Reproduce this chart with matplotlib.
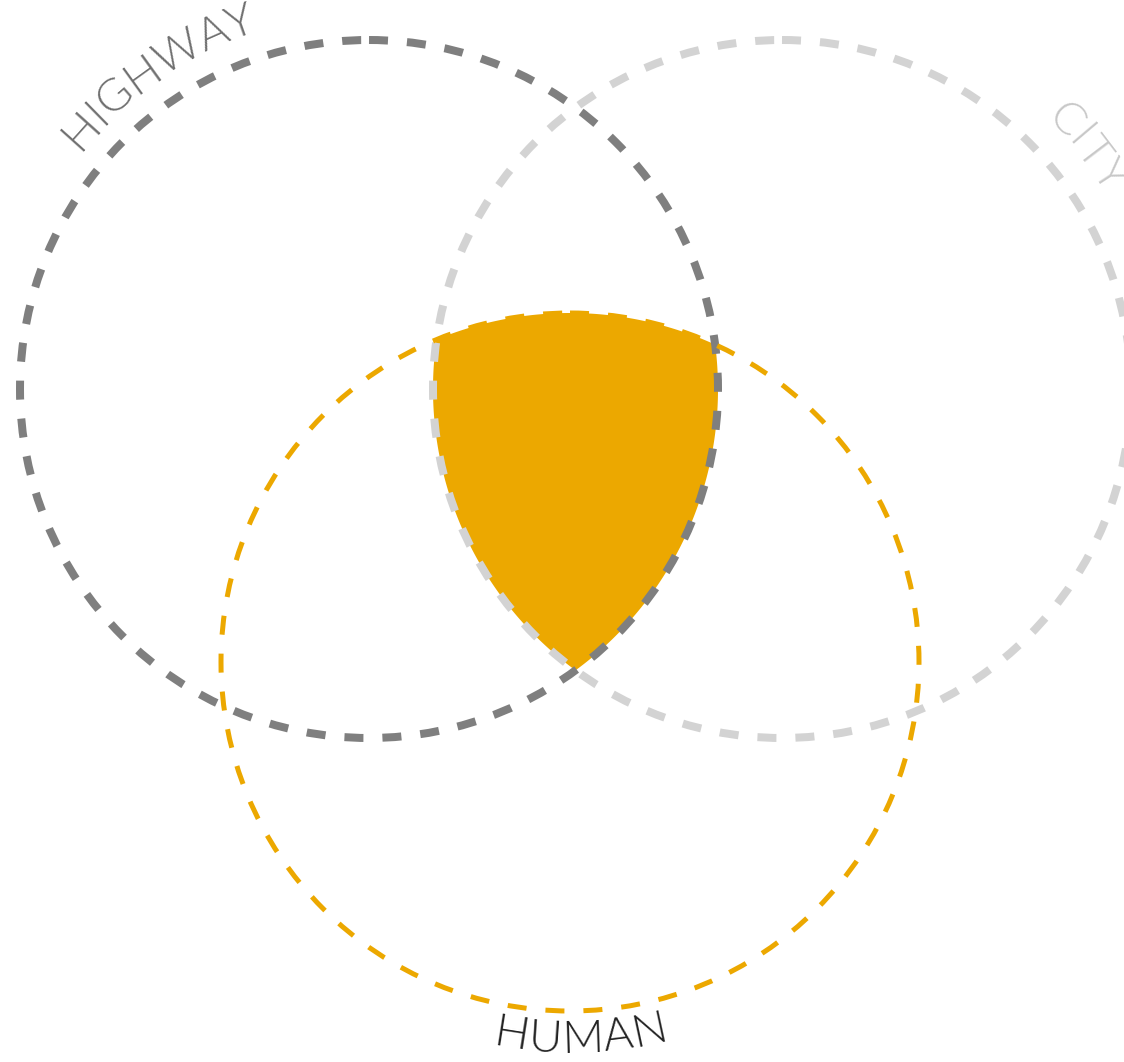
import numpy as np
import matplotlib
matplotlib.use("Agg")
import matplotlib.pyplot as plt
from matplotlib.patches import Circle, Polygon
from matplotlib import font_manager as fm

plt.rcParams['lines.scale_dashes'] = False

# ---- data ----
set_names = ["HIGHWAY", "CITY", "HUMAN"]
set_colors = ["#7f7f7f", "#d3d3d3", "#eca800"]
label_colors = ["#6f6f6f", "#c8c8c8", "#222222"]
fill_color = "#eca800"

# geometry in pixel space (image coords, y down)
centers = [(369, 389), (782, 389), (570, 662)]
radius = 349

# pick a light (not hairline) font if available
def pick_font():
    cands = ["Lato", "Open Sans", "Roboto", "Inter", "Noto Sans", "DejaVu Sans"]
    for target in (300, 200, 350, 250):
        for c in cands:
            for f in fm.fontManager.ttflist:
                if f.name == c and f.weight == target and f.style == 'normal':
                    return c, target
    return "Lato", "light"

FONT, WEIGHT = pick_font()

W, H = 1124, 1062
fig = plt.figure(figsize=(W / 100, H / 100), dpi=100)
ax = fig.add_axes([0, 0, 1, 1])
ax.set_xlim(0, W)
ax.set_ylim(H, 0)
ax.set_aspect('equal')
ax.axis('off')

# ---- triple intersection fill ----
th = np.linspace(0, 2 * np.pi, 4000, endpoint=False)
pts = []
for i, (cx, cy) in enumerate(centers):
    px = cx + radius * np.cos(th)
    py = cy + radius * np.sin(th)
    ok = np.ones_like(px, dtype=bool)
    for j, (ox, oy) in enumerate(centers):
        if j != i:
            ok &= (px - ox) ** 2 + (py - oy) ** 2 <= radius ** 2 + 1e-6
    pts.append(np.column_stack([px[ok], py[ok]]))
pts = np.vstack(pts)
c0 = pts.mean(axis=0)
order = np.argsort(np.arctan2(pts[:, 1] - c0[1], pts[:, 0] - c0[0]))
ax.add_patch(Polygon(pts[order], closed=True, facecolor=fill_color,
                     edgecolor='none', zorder=1))

# ---- circles ----
px2pt = 72 / 100.0
styles = [
    dict(lw=8, on=19, off=19, z=3),
    dict(lw=8, on=19, off=19, z=2),
    dict(lw=5, on=19, off=19, z=4),
]
for (cx, cy), col, st in zip(centers, set_colors, styles):
    ax.add_patch(Circle((cx, cy), radius, fill=False, edgecolor=col,
                        linewidth=st['lw'] * px2pt,
                        linestyle=(0, (st['on'] * px2pt, st['off'] * px2pt)),
                        capstyle='butt', zorder=st['z']))

# ---- curved labels ----
renderer = fig.canvas.get_renderer()

def text_width(s, fs):
    t = ax.text(0, 0, s, fontsize=fs, family=FONT, fontweight=WEIGHT)
    w = t.get_window_extent(renderer).width
    t.remove()
    return w

def arc_text(s, cx, cy, r, mid_deg, fs, color, top=True, track=0.0):
    widths = [text_width(ch, fs) + track for ch in s]
    total = sum(widths)
    pos = np.cumsum([0] + widths[:-1]) + np.array(widths) / 2 - total / 2
    for ch, p in zip(s, pos):
        if top:
            ang = np.deg2rad(mid_deg) - p / r
            rot = np.rad2deg(ang) - 90
        else:
            ang = np.deg2rad(mid_deg) + p / r
            rot = np.rad2deg(ang) + 90
        x = cx + r * np.cos(ang)
        y = cy - r * np.sin(ang)
        ax.text(x, y, ch, fontsize=fs, family=FONT, fontweight=WEIGHT,
                color=color, rotation=rot, rotation_mode='anchor',
                ha='center', va='center', zorder=5)

fs = 33
arc_text(set_names[0], centers[0][0], centers[0][1], 387, 124.0, fs,
         label_colors[0], top=True, track=1)
arc_text(set_names[1], centers[1][0], centers[1][1], 390, 38.5, fs,
         label_colors[1], top=True, track=1)
arc_text(set_names[2], centers[2][0], centers[2][1], 378, -88.4, fs,
         label_colors[2], top=False, track=0)

fig.savefig("out.png", dpi=100, facecolor='white')
